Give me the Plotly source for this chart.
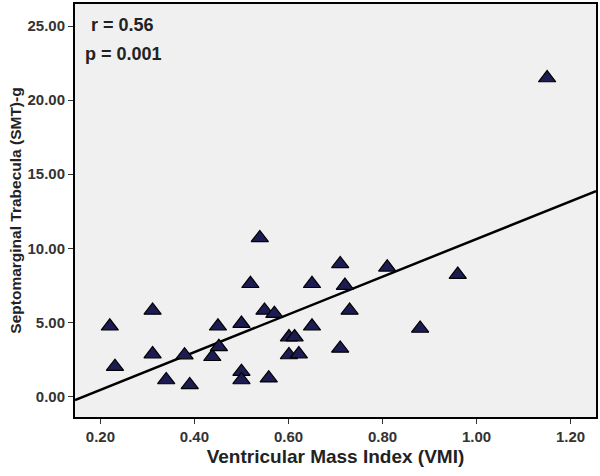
import numpy as np
import plotly.graph_objects as go

# Data
vmi = [0.22, 0.231, 0.311, 0.311, 0.34, 0.379, 0.39, 0.438, 0.45, 0.452,
       0.50, 0.50, 0.50, 0.539, 0.519, 0.549, 0.57, 0.558, 0.601, 0.613,
       0.601, 0.622, 0.65, 0.65, 0.71, 0.72, 0.73, 0.71, 0.81, 0.88,
       0.96, 1.15]
smt = [4.73, 2.0, 5.8, 2.85, 1.1, 2.78, 0.77, 2.67, 4.73, 3.34,
       4.91, 1.66, 1.1, 10.7, 7.6, 5.8, 5.58, 1.22, 4.0, 4.0,
       2.79, 2.85, 7.6, 4.73, 8.94, 7.48, 5.8, 3.23, 8.71, 4.58,
       8.22, 21.5]

x_ticks = [0.2, 0.4, 0.6, 0.8, 1.0, 1.2]
y_ticks = [0, 5, 10, 15, 20, 25]
x_range = [0.146, 1.254]
y_range = [-1.4, 26.5]

slope, intercept = np.polyfit(vmi, smt, 1)
line_x = np.array(x_range)
line_y = slope * line_x + intercept

fig = go.Figure()
fig.add_trace(go.Scatter(
    x=line_x, y=line_y, mode="lines",
    line=dict(color="black", width=2.5), hoverinfo="skip", showlegend=False))
fig.add_trace(go.Scatter(
    x=vmi, y=smt, mode="markers",
    marker=dict(symbol="triangle-up", size=15, color="#1c1c52",
                line=dict(color="black", width=1.2)),
    showlegend=False))

font_fam = "Liberation Sans, Arial, sans-serif"
fig.update_layout(
    width=600, height=476,
    margin=dict(l=75, r=3, t=2, b=59),
    paper_bgcolor="white", plot_bgcolor="#f0f0f0",
    font=dict(family=font_fam, color="#222"),
    xaxis=dict(range=x_range, tickvals=x_ticks,
               ticktext=[f"{v:.2f}" for v in x_ticks],
               showgrid=False, zeroline=False, ticks="outside", ticklen=5,
               tickcolor="#333", tickfont=dict(size=15, color="#333", weight="bold"),
               showline=True, linecolor="black", linewidth=2, mirror=True,
               title=dict(text="<b>Ventricular Mass Index (VMI)</b>",
                          font=dict(size=19, color="#222"), standoff=6)),
    yaxis=dict(range=y_range, tickvals=y_ticks,
               ticktext=[f"{v:.2f}" for v in y_ticks],
               showgrid=False, zeroline=False, ticks="outside", ticklen=5,
               tickcolor="#333", tickfont=dict(size=15, color="#333", weight="bold"),
               showline=True, linecolor="black", linewidth=2, mirror=True,
               title=dict(text="<b>Septomarginal Trabecula (SMT)-g</b>",
                          font=dict(size=15.5, color="#222"), standoff=2)),
    annotations=[
        dict(text="<b>r = 0.56</b>", x=0.175, y=25.1, xref="x", yref="y",
             xanchor="left", yanchor="middle", showarrow=False,
             font=dict(size=18, color="#222")),
        dict(text="<b>p = 0.001</b>", x=0.164, y=23.1, xref="x", yref="y",
             xanchor="left", yanchor="middle", showarrow=False,
             font=dict(size=18, color="#222")),
    ],
)
fig.write_html("out.html", config={"displayModeBar": False},
               post_script="document.body.style.margin='0';")
